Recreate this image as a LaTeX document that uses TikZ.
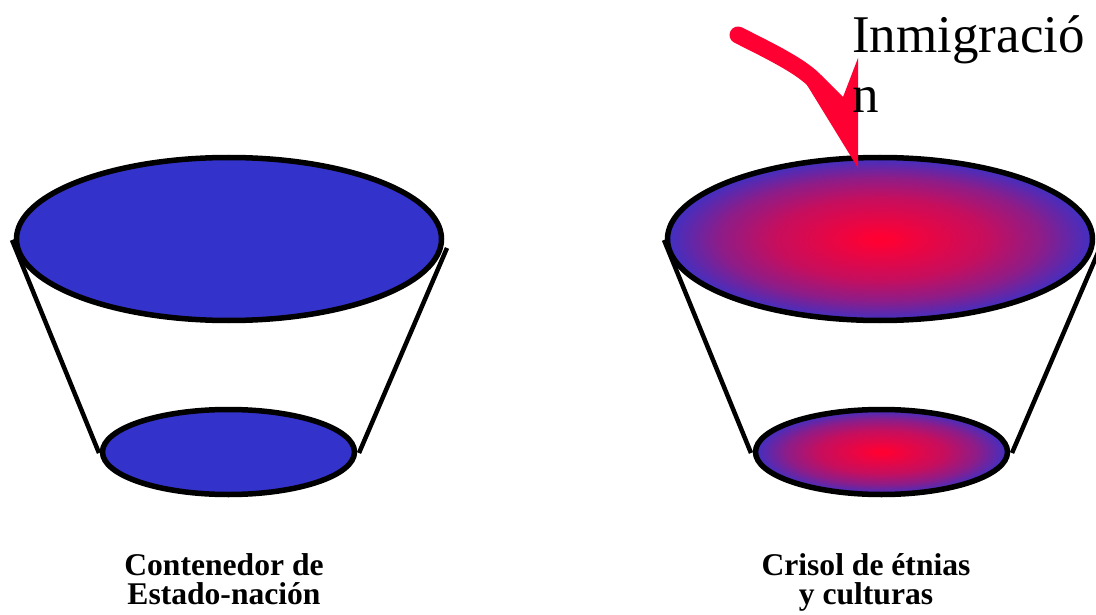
\documentclass[tikz,border=0pt]{standalone}
\usepackage{fontspec}
\setmainfont{Liberation Serif}
\usetikzlibrary{positioning}
\definecolor{potblue}{RGB}{51,51,204}
\definecolor{potred}{RGB}{255,0,51}
\pgfdeclareradialshading{melting}{\pgfpoint{0bp}{0bp}}{%
  color(0bp)=(potred); color(1bp)=(potred);
  color(12.5bp)=(potred!72!potblue); color(19bp)=(potred!44!potblue);
  color(25bp)=(potred!6!potblue); color(27bp)=(potblue);
  color(50bp)=(potblue)}
\tikzset{
  rim/.style={draw=black, line width=5.5pt},
  plainrim/.style={rim, fill=potblue},
  meltrim/.style={rim, shade, shading=melting},
  side/.style={draw=black, line width=4.5pt},
  inlabel/.style={font=\fontsize{53}{60}\selectfont, inner sep=0pt,
                  anchor=base west},
  caption/.style={font=\fontsize{31.6}{29}\selectfont\bfseries,
                  align=center, inner sep=0pt, anchor=north},
  flow/.style={draw=potred, line width=17pt, line cap=round, line join=round},
}
\begin{document}
\begin{tikzpicture}[x=1pt, y=-1pt]
  \useasboundingbox (0,0) rectangle (1096,615);

  % Estado-nacion
  \draw[side] (12,240) -- (99,453);
  \draw[side] (447,248) -- (359,453);
  \path[plainrim] (229,239) ellipse (212.5 and 81.5);
  \path[plainrim] (228.5,452) ellipse (126 and 42.5);

  % crisol
  \draw[side] (664,240) -- (751,453);
  \draw[side] (1100,248) -- (1012,453);
  \path[meltrim] (880,239) ellipse (212.5 and 81.5);
  \path[meltrim] (881.5,452) ellipse (126 and 42.5);

  % inmigracion
  \coordinate (tip) at (858,168);
  \draw[flow] (738,35) .. controls (772,52) and (800,66) .. (814,80) -- (828,98);
  \fill[potred] (807,85) -- (821,75) -- (843,97) -- (858,58) -- (tip) -- cycle;

  \node[inlabel] (immA) at (852,53)  {Inmigració};
  \node[inlabel] (immB) at (852,113) {n};

  \node[caption] (capL) at (224,553) {Contenedor de\\Estado-nación};
  \node[caption] (capR) at (866,553) {Crisol de étnias\\y culturas};
\end{tikzpicture}
\end{document}
